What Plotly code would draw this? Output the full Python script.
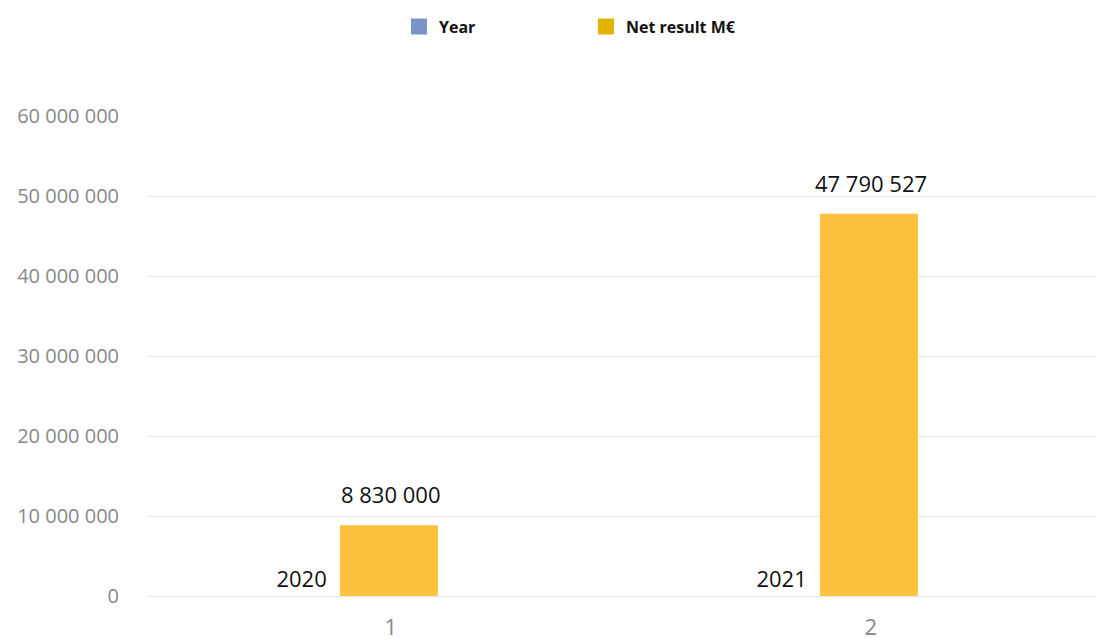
import plotly.graph_objects as go

categories = [1, 2]
year_values = [2020, 2021]
net_result = [8830000, 47790527]
y_ticks = [0, 10000000, 20000000, 30000000, 40000000, 50000000, 60000000]

FONT = "Open Sans, Roboto, sans-serif"

fig = go.Figure()

# Year series (bars are negligible at this scale; only their labels show)
fig.add_trace(go.Bar(
    x=categories, y=year_values, name="Year",
    marker=dict(color="rgba(0,0,0,0)", line=dict(width=0)),
    width=0.12, offset=-0.246,
    text=[str(v) for v in year_values], texttemplate="%{text}",
    textposition="outside", cliponaxis=False,
    textfont=dict(family=FONT, size=22, color="#111111"),
    showlegend=False, hoverinfo="skip",
))

# Net result series
fig.add_trace(go.Bar(
    x=categories, y=net_result, name="Net result M€",
    marker=dict(color="#fcc13e", line=dict(width=0)),
    width=0.204, offset=-0.106,
    showlegend=False,
))

# Value labels for Net result
for c, v in zip(categories, net_result):
    fig.add_annotation(
        x=c, y=v, xref="x", yref="y", text=f"{v:,}".replace(",", " "),
        showarrow=False, yanchor="bottom", xanchor="center", yshift=14,
        font=dict(family=FONT, size=22, color="#111111"),
    )

# Legend entries
fig.add_trace(go.Scatter(
    x=[None], y=[None], mode="markers", name="Year",
    marker=dict(symbol="square", size=20, color="#7b93c9"),
))
fig.add_trace(go.Scatter(
    x=[None], y=[None], mode="markers", name="Net result M€",
    marker=dict(symbol="square", size=20, color="#e0b400"),
))

fig.update_layout(
    width=1096, height=644,
    margin=dict(l=148, r=0, t=116, b=48),
    paper_bgcolor="white", plot_bgcolor="white",
    separators=". ",
    barmode="overlay",
    showlegend=True,
    legend=dict(
        orientation="h", xref="container", x=0.364, xanchor="left",
        yref="container", y=0.985, yanchor="top", itemsizing="trace",
        entrywidth=142, entrywidthmode="pixels",
        font=dict(family=FONT, size=16, color="#111111", weight="bold"),
        bgcolor="rgba(0,0,0,0)",
    ),
    font=dict(family=FONT),
)

fig.update_xaxes(
    range=[0.494, 2.469], tickvals=categories, ticktext=[str(c) for c in categories],
    showgrid=False, zeroline=False, showline=False, automargin=False,
    tickfont=dict(family=FONT, size=22, color="#888888"),
    ticks="outside", ticklen=12, tickcolor="rgba(0,0,0,0)",
)
fig.update_yaxes(
    range=[0, 60000000], tickvals=y_ticks, tickformat=",d",
    showgrid=True, gridcolor="#e6e6e6", gridwidth=1,
    zeroline=True, zerolinecolor="#e6e6e6", zerolinewidth=1,
    showline=False, automargin=False,
    tickfont=dict(family=FONT, size=20, color="#888888"),
    ticklabelstandoff=28,
)

fig.write_html("out.html")
